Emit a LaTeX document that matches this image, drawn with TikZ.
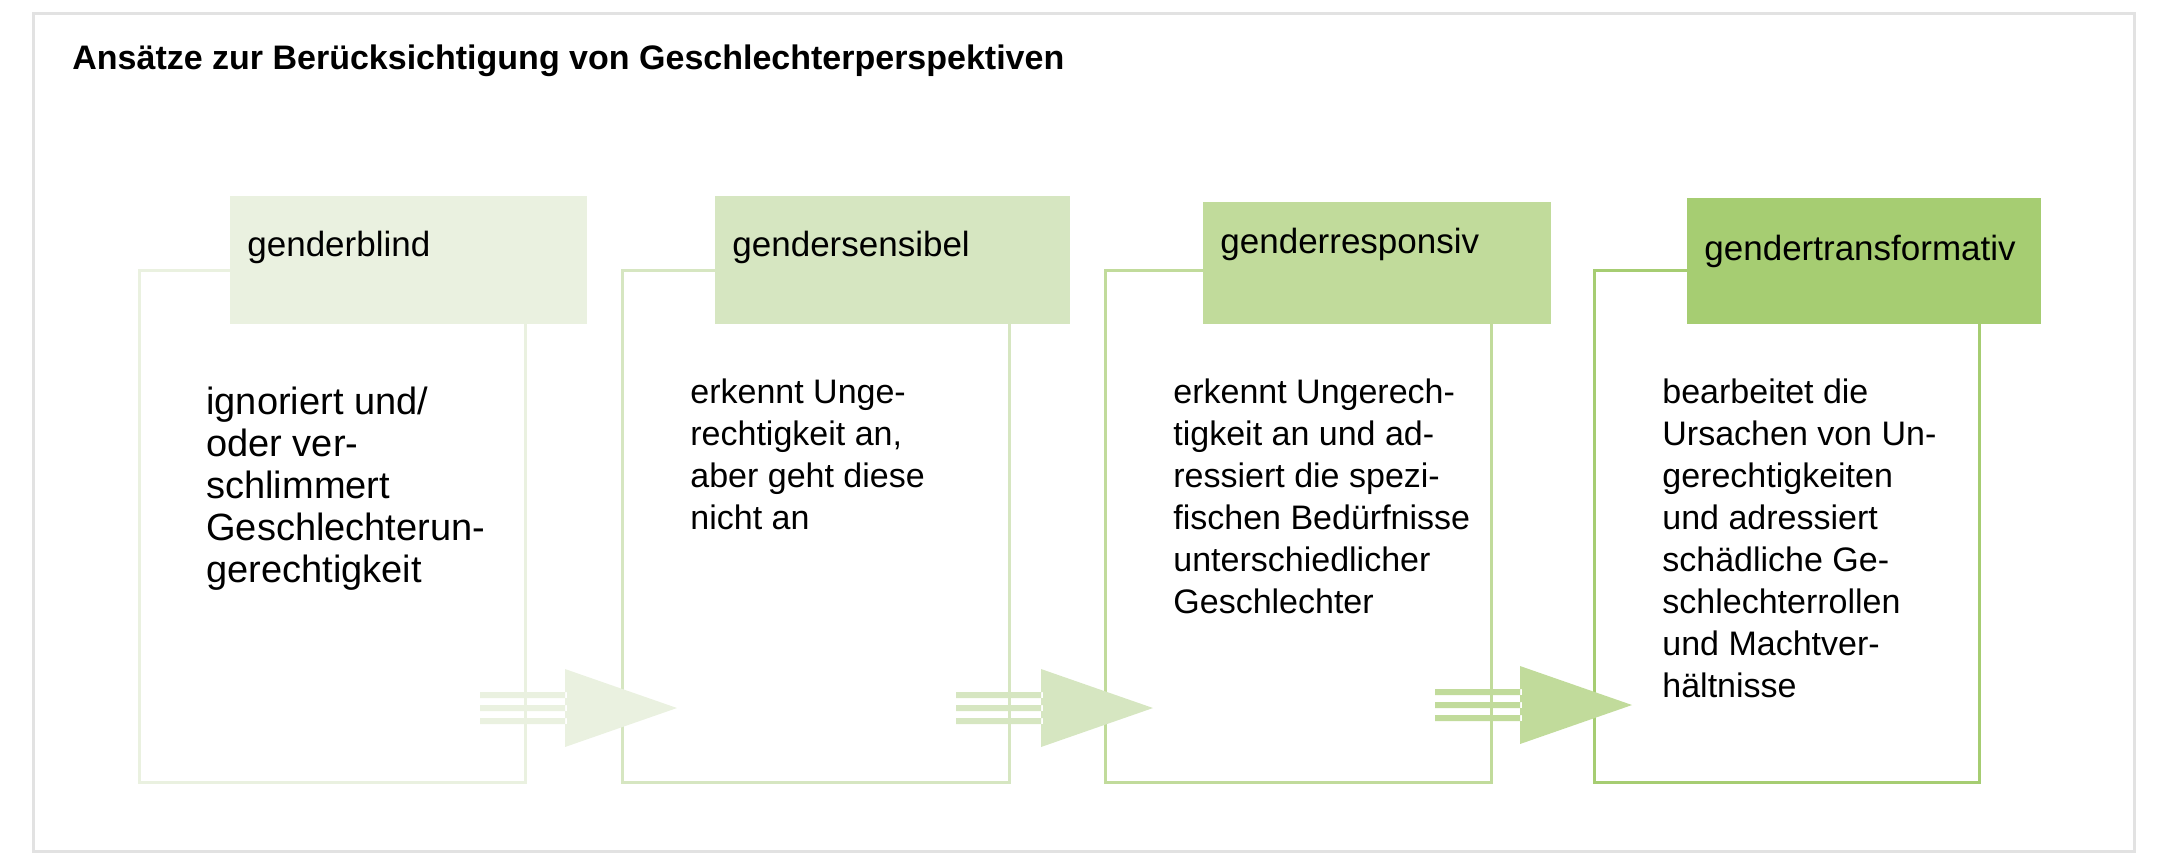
\documentclass[tikz,border=0pt]{standalone}
\usepackage{fontspec}
\setmainfont{Liberation Sans}
\definecolor{cA}{HTML}{EAF1E0}
\definecolor{cB}{HTML}{D6E6C1}
\definecolor{cC}{HTML}{C1DB9B}
\definecolor{cD}{HTML}{A6CD72}
\definecolor{frame}{HTML}{E2E2E2}
\begin{document}
\begin{tikzpicture}[x=0.5pt,y=-0.5pt,
  lab/.style={anchor=west,font=\fontsize{17.5}{20}\selectfont,inner sep=0pt},
  body/.style={anchor=north west,align=left,font=\fontsize{17}{21}\selectfont,inner sep=0pt},
  outl/.style={line width=1.5pt}]
\useasboundingbox (0,0) rectangle (2172,859);
\draw[frame,line width=1.5pt] (33,13) rectangle (2134,851);
\node[anchor=west,inner sep=0pt,font=\bfseries\fontsize{17}{20}\selectfont] (title) at (72,61) {Ansätze zur Berücksichtigung von Geschlechterperspektiven};
% panels
\newcommand{\panel}[9]{%
  \draw[#1,outl] (#2,270) rectangle (#3,782);
  \fill[#1] (#4,#6) rectangle (#5,324);
  \node[lab] (#7) at ([xshift=8.5]#4,#9) {#8};
}
\panel{cA}{139}{525}{230}{587}{196}{l1}{genderblind}{247}
\panel{cB}{622}{1009}{715}{1070}{196}{l2}{gendersensibel}{247}
\panel{cC}{1105}{1491}{1203}{1551}{202}{l3}{genderresponsiv}{244}
\panel{cD}{1594}{1979}{1687}{2041}{198}{l4}{gendertransformativ}{251}
\node[body,font=\fontsize{19}{21}\selectfont] (t1) at (206,387) {ignoriert und/\\oder ver-\\schlimmert\\Geschlechterun-\\gerechtigkeit};
\node[body] (t2) at (690,378) {erkennt Unge-\\rechtigkeit an,\\aber geht diese\\nicht an};
\node[body] (t3) at (1173,378) {erkennt Ungerech-\\tigkeit an und ad-\\ressiert die spezi-\\fischen Bedürfnisse\\unterschiedlicher\\Geschlechter};
\node[body] (t4) at (1662,378) {bearbeitet die\\Ursachen von Un-\\gerechtigkeiten\\und adressiert\\schädliche Ge-\\schlechterrollen\\und Machtver-\\hältnisse};
% arrows
\newcommand{\arr}[3]{%
  \begin{scope}[shift={(#2,#3)}]
  \fill[#1] (480,692) rectangle (567,698) (480,705) rectangle (567,711) (480,718) rectangle (567,724)
    (565,669) -- (677,708) -- (565,747) -- cycle;
  \end{scope}}
\arr{cA}{0}{0}
\arr{cB}{476}{0}
\arr{cC}{955}{-3}
\end{tikzpicture}
\end{document}
